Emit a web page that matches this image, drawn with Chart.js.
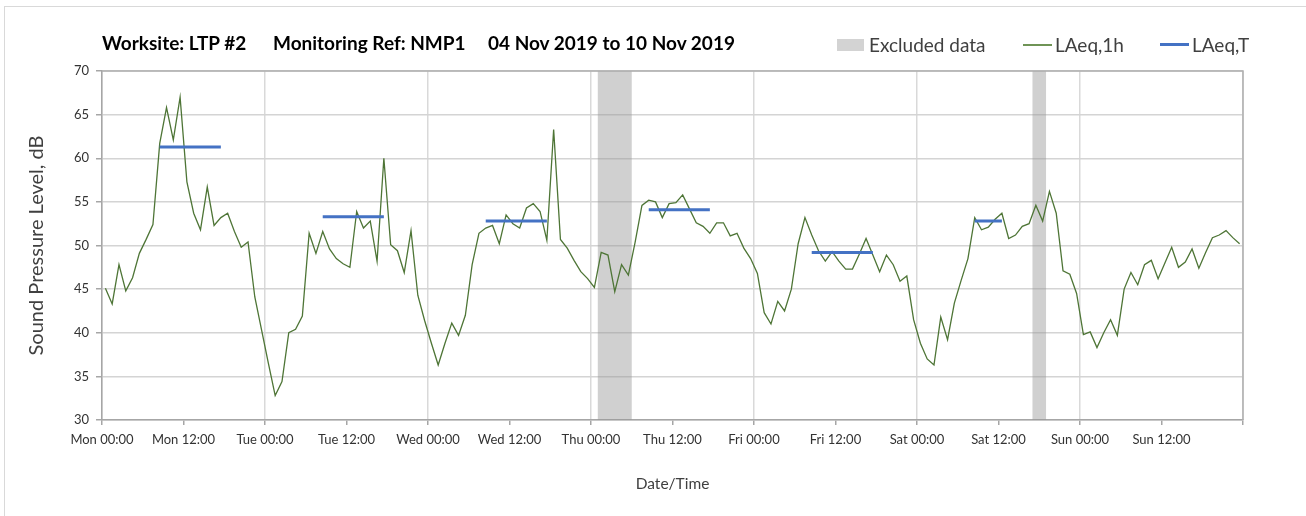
<!DOCTYPE html>
<html>
<head>
<meta charset="utf-8">
<script src="https://cdn.jsdelivr.net/npm/chart.js@4.4.1/dist/chart.umd.min.js"></script>
<style>
html,body{margin:0;padding:0;background:#fff;}
#wrap{position:relative;width:1306px;height:516px;overflow:hidden;font-family:Lato,"Open Sans",sans-serif;background:#fff;}
#frame{position:absolute;left:4px;top:6px;width:1400px;height:600px;border-left:1px solid #d9d9d9;border-top:1px solid #d9d9d9;}
#c{position:absolute;left:0;top:0;}
.t{position:absolute;top:32px;font-weight:bold;font-size:19px;color:#000;white-space:nowrap;line-height:22px;}
.lg{position:absolute;top:34px;font-size:19px;color:#404040;white-space:nowrap;line-height:22px;}
.sw{position:absolute;}
</style>
</head>
<body>
<div id="wrap">
  <div id="frame"></div>
  <canvas id="c" width="1306" height="516"></canvas>
  <div class="t" style="left:102px">Worksite: LTP #2</div>
  <div class="t" style="left:273px">Monitoring Ref: NMP1</div>
  <div class="t" style="left:488px">04 Nov 2019 to 10 Nov 2019</div>
  <div class="sw" style="left:837px;top:39px;width:27px;height:12px;background:#d3d3d3"></div>
  <div class="lg" style="left:869px">Excluded data</div>
  <div class="sw" style="left:1023px;top:44px;width:29px;height:1.5px;background:#6f9456"></div>
  <div class="lg" style="left:1055px">LAeq,1h</div>
  <div class="sw" style="left:1160px;top:43px;width:29px;height:3px;background:#4472c4"></div>
  <div class="lg" style="left:1192px">LAeq,T</div>
</div>
<script>
// ---- Data ----
// Hourly LAeq,1h values (dB), first value is the hour starting Mon 00:00 (plotted at mid-hour)
const firstHour = 0.5;
const laeq1h = [
  45.1, 43.3, 47.8, 44.8, 46.3, 49.1, 50.7, 52.4, 61.7, 65.8, 62.1, 67.0, 57.3, 53.7, 51.8, 56.7, 52.3, 53.2, 53.7, 51.6, 49.8, 50.4, 44.1, 40.3,
  36.5, 32.8, 34.4, 40.0, 40.4, 41.9, 51.4, 49.1, 51.6, 49.6, 48.5, 47.9, 47.5, 53.9, 52.0, 52.8, 48.2, 60.0, 50.1, 49.4, 46.9, 51.7, 44.3, 41.4,
  38.8, 36.3, 38.8, 41.1, 39.7, 42.0, 47.8, 51.4, 52.0, 52.3, 50.2, 53.5, 52.5, 52.0, 54.3, 54.8, 53.9, 50.6, 63.3, 50.7, 49.7, 48.3, 47.0, 46.2,
  45.2, 49.2, 48.9, 44.7, 47.8, 46.6, 50.4, 54.6, 55.2, 55.0, 53.2, 54.8, 54.9, 55.8, 54.2, 52.6, 52.2, 51.4, 52.6, 52.6, 51.1, 51.4, 49.7, 48.5,
  46.8, 42.3, 41.0, 43.6, 42.5, 45.0, 50.2, 53.2, 51.2, 49.4, 48.2, 49.3, 48.2, 47.3, 47.3, 49.0, 50.8, 48.9, 47.0, 48.9, 47.8, 45.9, 46.5, 41.5,
  38.8, 37.0, 36.3, 41.8, 39.2, 43.4, 46.0, 48.5, 53.2, 51.8, 52.1, 53.0, 53.7, 50.8, 51.2, 52.2, 52.5, 54.6, 52.8, 56.2, 53.7, 47.1, 46.7, 44.5,
  39.8, 40.1, 38.3, 40.0, 41.5, 39.7, 45.0, 46.9, 45.5, 47.8, 48.3, 46.2, 48.0, 49.8, 47.5, 48.1, 49.6, 47.4, 49.2, 50.9, 51.2, 51.7, 50.9, 50.2
];
// LAeq,T daytime periods (hours from Mon 00:00)
const ltStart  = [8.5, 32.5, 56.5, 80.5, 104.5, 128.5];
const ltEnd    = [17.5, 41.5, 65.5, 89.5, 113.5, 132.5];
const ltValues = [61.3, 53.3, 52.8, 54.1, 49.2, 52.8];
// Excluded data periods (hours from Mon 00:00)
const exclStart = [73, 137];
const exclEnd   = [78, 139];
// Axis ticks
const xTickValues = [0, 12, 24, 36, 48, 60, 72, 84, 96, 108, 120, 132, 144, 156, 168];
const xTickLabels = ['Mon 00:00','Mon 12:00','Tue 00:00','Tue 12:00','Wed 00:00','Wed 12:00','Thu 00:00','Thu 12:00',
                     'Fri 00:00','Fri 12:00','Sat 00:00','Sat 12:00','Sun 00:00','Sun 12:00',''];
const yMin = 30, yMax = 70, yStep = 5;

// ---- Build datasets ----
const greenData = laeq1h.map((v, i) => ({x: firstHour + i, y: v}));
const blueData = [];
ltValues.forEach((v, i) => {
  blueData.push({x: ltStart[i], y: v});
  blueData.push({x: ltEnd[i], y: v});
  blueData.push({x: ltEnd[i] + 1, y: null});
});

const bandPlugin = {
  id: 'bands',
  beforeDatasetsDraw(chart) {
    const {ctx, chartArea, scales} = chart;
    ctx.save();
    ctx.fillStyle = 'rgba(150,150,150,0.45)';
    exclStart.forEach((s, i) => {
      const x1 = scales.x.getPixelForValue(s);
      const x2 = scales.x.getPixelForValue(exclEnd[i]);
      ctx.fillRect(x1, chartArea.top, x2 - x1, chartArea.bottom - chartArea.top);
    });
    ctx.strokeStyle = '#b0b0b0';
    ctx.lineWidth = 1.5;
    ctx.beginPath();
    ctx.moveTo(chartArea.left, chartArea.top);
    ctx.lineTo(chartArea.right, chartArea.top);
    ctx.lineTo(chartArea.right, chartArea.bottom);
    ctx.stroke();
    ctx.restore();
  }
};

Chart.defaults.font.family = 'Lato, "Open Sans", sans-serif';
Chart.defaults.color = '#404040';

new Chart(document.getElementById('c'), {
  type: 'line',
  data: {
    datasets: [
      {label: 'LAeq,T', data: blueData, borderColor: '#4472c4', borderWidth: 3, pointRadius: 0, spanGaps: false, tension: 0, order: 0},
      {label: 'LAeq,1h', data: greenData, borderColor: '#4e7536', borderWidth: 1.3, pointRadius: 0, tension: 0, order: 1}
    ]
  },
  options: {
    responsive: false,
    animation: false,
    devicePixelRatio: 1,
    layout: {padding: {left: 0, right: 63, top: 71, bottom: 0}},
    plugins: {legend: {display: false}, tooltip: {enabled: false}},
    scales: {
      x: {
        type: 'linear', min: 0, max: 168,
        afterBuildTicks: s => { s.ticks = xTickValues.map(v => ({value: v})); },
        afterFit: s => { s.height = 96; },
        ticks: {
          autoSkip: false, maxRotation: 0, minRotation: 0, padding: 7,
          font: {size: 13}, color: '#333333',
          callback: v => { const i = xTickValues.indexOf(v); return i >= 0 ? xTickLabels[i] : ''; }
        },
        grid: {
          color: c => (c.tick && c.tick.value % 24 === 0) ? '#d9d9d9' : 'rgba(0,0,0,0)',
          lineWidth: 1.5, tickLength: 5, tickColor: '#a6a6a6', tickWidth: 1.5
        },
        border: {color: '#a6a6a6', width: 1.5},
        title: {display: true, text: 'Date/Time', font: {size: 15.5}, color: '#404040', padding: {top: 0, bottom: 23}}
      },
      y: {
        min: yMin, max: yMax,
        afterFit: s => { s.width = 102; },
        ticks: {stepSize: yStep, padding: 7, font: {size: 13}, color: '#333333'},
        grid: {color: '#d4d4d4', lineWidth: 1.5, tickLength: 6, tickColor: '#a6a6a6', tickWidth: 1.5},
        border: {color: '#a6a6a6', width: 1.5},
        title: {display: true, text: 'Sound Pressure Level, dB', font: {size: 20}, color: '#404040', padding: {top: 25, bottom: 0}}
      }
    }
  },
  plugins: [bandPlugin]
});
</script>
</body>
</html>
